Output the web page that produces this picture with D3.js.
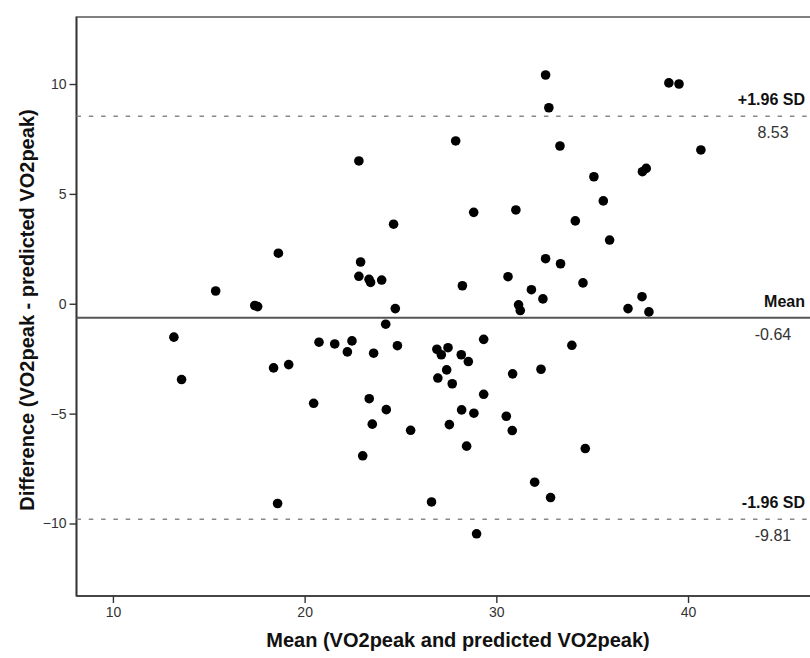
<!DOCTYPE html>
<html>

<head>
	<title>Bland-Altman VO2peak</title>
	<meta charset="utf-8">
	<script src="https://cdn.jsdelivr.net/npm/d3@7"></script>
</head>

<style>
	body {
		margin: 0;
		background: #fff;
	}

	svg text {
		font-family: "Liberation Sans", Arial, sans-serif;
	}
</style>

<body>

	<svg width="810" height="658"></svg>

	<script>
		// mean of the two measures (x) and their difference (y)
		var meanValues = [
			13.18, 13.58,
			22.83, 24.64, 18.63, 22.92, 22.83, 23.36, 23.44, 24.02, 15.36, 17.40, 17.55, 24.73, 24.23,
			32.57, 39.00, 39.53, 32.74, 27.88, 33.32, 40.67, 37.62, 37.82, 35.09, 35.58, 28.82, 31.02,
			34.12, 35.91, 32.57, 33.35, 30.61, 28.23, 34.52, 31.83, 32.43, 37.60, 31.16, 31.25, 36.87, 37.96,
			20.75, 21.57, 22.47, 22.23, 23.60, 24.84, 18.38, 19.17, 20.47, 23.37, 24.26, 23.53, 25.53, 23.03, 18.59,
			29.34, 26.90, 27.48, 27.13, 28.17, 28.54, 33.94, 27.41, 26.95, 27.70, 30.85, 32.33, 29.34,
			28.19, 28.83, 30.52, 27.55, 30.83, 28.45, 34.64, 32.00, 32.83, 26.62, 28.97
		];

		var diffValues = [
			-1.52, -3.45,
			6.50, 3.62, 2.30, 1.90, 1.25, 1.11, 0.97, 1.08, 0.58, -0.08, -0.13, -0.22, -0.93,
			10.41, 10.05, 10.00, 8.92, 7.41, 7.18, 7.00, 6.01, 6.16, 5.78, 4.68, 4.16, 4.27,
			3.77, 2.90, 2.05, 1.82, 1.23, 0.82, 0.95, 0.64, 0.22, 0.32, -0.05, -0.31, -0.22, -0.37,
			-1.75, -1.83, -1.69, -2.19, -2.25, -1.91, -2.92, -2.77, -4.53, -4.32, -4.82, -5.48, -5.76, -6.92, -9.09,
			-1.62, -2.07, -2.00, -2.32, -2.32, -2.63, -1.89, -3.01, -3.38, -3.64, -3.19, -2.98, -4.12,
			-4.83, -4.98, -5.12, -5.50, -5.77, -6.48, -6.59, -8.12, -8.82, -9.02, -10.47
		];

		var refNames = ["+1.96 SD", "Mean", "-1.96 SD"];
		var refValues = [8.53, -0.64, -9.81];
		var refLabels = ["8.53", "-0.64", "-9.81"];

		var xTicks = [10, 20, 30, 40];
		var yTicks = [-10, -5, 0, 5, 10];

		var points = meanValues.map(function(m, i) {
			return { x: m, y: diffValues[i] };
		});

		var x = d3.scaleLinear()
			.domain([8.1, 46.3])
			.range([76.5, 808.8]);

		var y = d3.scaleLinear()
			.domain([-13.3, 13.05])
			.range([596, 17]);

		var svg = d3.select("svg");

		// plot frame (runs off the right edge like the original)
		svg.append("rect")
			.attr("x", x(8.1))
			.attr("y", y(13.05))
			.attr("width", 760)
			.attr("height", y(-13.3) - y(13.05))
			.attr("fill", "none")
			.attr("stroke", "#808080")
			.attr("stroke-width", 2);

		var xAxis = svg.append("g")
			.attr("transform", "translate(0," + y(-13.3) + ")")
			.call(d3.axisBottom(x).tickValues(xTicks).tickSize(7).tickPadding(4));

		var yAxis = svg.append("g")
			.attr("transform", "translate(" + x(8.1) + ",0)")
			.call(d3.axisLeft(y).tickValues(yTicks).tickSize(7).tickPadding(3));

		[xAxis, yAxis].forEach(function(a) {
			a.select(".domain").attr("stroke", "#333").attr("stroke-width", 1.6);
			a.selectAll(".tick line").attr("stroke", "#333").attr("stroke-width", 1.4);
			a.selectAll(".tick text")
				.attr("fill", "#333")
				.style("font-size", "14px");
		});
		yAxis.select(".domain").attr("d", "M0," + y(13.05) + "V" + y(-13.3));
		xAxis.select(".domain").attr("d", "M" + x(8.1) + ",0H820");

		// reference lines
		var refs = svg.append("g").attr("class", "refs");

		refs.selectAll("line")
			.data(refValues)
			.enter()
			.append("line")
			.attr("x1", x(8.1))
			.attr("x2", 810)
			.attr("y1", function(d) { return y(d); })
			.attr("y2", function(d) { return y(d); })
			.attr("stroke", function(d, i) { return i == 1 ? "#555" : "#888"; })
			.attr("stroke-width", function(d, i) { return i == 1 ? 2 : 1.6; })
			.attr("stroke-dasharray", function(d, i) { return i == 1 ? null : "4.5,7.8"; });

		refs.selectAll("text.name")
			.data(refNames)
			.enter()
			.append("text")
			.attr("class", "name")
			.attr("x", 805)
			.attr("y", function(d, i) { return y(refValues[i]) - 11; })
			.attr("text-anchor", "end")
			.style("font-size", "16px")
			.style("font-weight", "bold")
			.attr("fill", "#111")
			.text(function(d) { return d; });

		refs.selectAll("text.val")
			.data(refLabels)
			.enter()
			.append("text")
			.attr("class", "val")
			.attr("x", 773)
			.attr("y", function(d, i) { return y(refValues[i]) + 22; })
			.attr("text-anchor", "middle")
			.style("font-size", "16px")
			.attr("fill", "#333")
			.text(function(d) { return d; });

		// points
		svg.append("g")
			.selectAll("circle")
			.data(points)
			.enter()
			.append("circle")
			.attr("cx", function(d) { return x(d.x); })
			.attr("cy", function(d) { return y(d.y); })
			.attr("r", 4.8)
			.attr("fill", "#000");

		// axis titles
		svg.append("text")
			.attr("x", 458)
			.attr("y", 647)
			.attr("text-anchor", "middle")
			.style("font-size", "20px")
			.style("font-weight", "bold")
			.attr("fill", "#111")
			.text("Mean (VO2peak and predicted VO2peak)");

		svg.append("text")
			.attr("transform", "translate(34,310) rotate(-90)")
			.attr("text-anchor", "middle")
			.style("font-size", "20px")
			.style("font-weight", "bold")
			.attr("fill", "#111")
			.text("Difference (VO2peak - predicted VO2peak)");
	</script>
</body>

</html>
